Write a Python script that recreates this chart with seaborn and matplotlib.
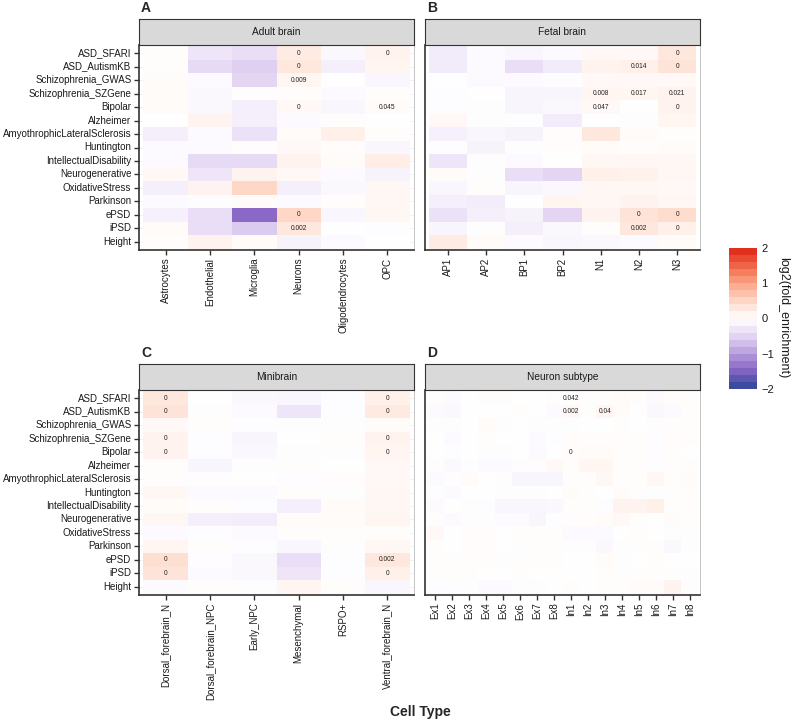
import numpy as np
import pandas as pd
import matplotlib
matplotlib.use("Agg")
import matplotlib.pyplot as plt
import seaborn as sns
from matplotlib.colors import LinearSegmentedColormap, Normalize
from matplotlib.cm import ScalarMappable

# gene sets (rows) and cell types (columns) for each panel
gene_sets = ["ASD_SFARI", "ASD_AutismKB", "Schizophrenia_GWAS", "Schizophrenia_SZGene",
             "Bipolar", "Alzheimer", "AmyothrophicLateralSclerosis", "Huntington",
             "IntellectualDisability", "Neurogenerative", "OxidativeStress", "Parkinson",
             "ePSD", "iPSD", "Height"]

adult_cells = ["Astrocytes", "Endothelial", "Microglia", "Neurons", "Oligodendrocytes", "OPC"]
fetal_cells = ["AP1", "AP2", "BP1", "BP2", "N1", "N2", "N3"]
mini_cells = ["Dorsal_forebrain_N", "Dorsal_forebrain_NPC", "Early_NPC", "Mesenchymal",
              "RSPO+", "Ventral_forebrain_N"]
subtype_cells = ["Ex1", "Ex2", "Ex3", "Ex4", "Ex5", "Ex6", "Ex7", "Ex8",
                 "In1", "In2", "In3", "In4", "In5", "In6", "In7", "In8"]

# log2(fold_enrichment)
adult_vals = [
    [0.02, -0.30, -0.40, 0.25, -0.08, 0.15],
    [0.03, -0.45, -0.55, 0.30, -0.20, 0.12],
    [0.05, -0.06, -0.50, 0.12, 0.00, -0.10],
    [0.05, -0.08, 0.03, 0.04, -0.05, 0.02],
    [0.05, -0.08, -0.20, 0.08, -0.10, 0.05],
    [0.00, 0.15, -0.20, -0.05, 0.02, 0.00],
    [-0.20, -0.05, -0.35, 0.05, 0.20, 0.03],
    [-0.05, -0.05, 0.03, 0.08, 0.04, -0.10],
    [-0.06, -0.45, -0.45, 0.15, 0.05, 0.22],
    [0.08, -0.30, 0.15, 0.08, -0.06, -0.15],
    [-0.20, 0.15, 0.50, -0.20, -0.08, 0.10],
    [-0.05, -0.03, 0.05, -0.05, 0.04, 0.10],
    [-0.18, -0.40, -1.50, 0.50, -0.10, 0.10],
    [0.06, -0.40, -0.60, 0.30, 0.00, -0.04],
    [0.04, 0.15, 0.05, -0.15, -0.06, 0.00],
]
fetal_vals = [
    [-0.25, -0.05, -0.10, -0.05, 0.08, 0.08, 0.30],
    [-0.25, -0.05, -0.40, -0.25, 0.15, 0.20, 0.35],
    [0.00, -0.05, -0.05, -0.02, 0.08, 0.08, 0.08],
    [-0.04, 0.00, -0.12, -0.12, 0.12, 0.12, 0.15],
    [-0.04, -0.02, -0.12, -0.08, 0.08, 0.00, 0.15],
    [0.08, -0.03, -0.04, -0.25, 0.00, -0.03, 0.12],
    [-0.18, -0.10, -0.15, 0.04, 0.30, 0.06, 0.03],
    [-0.04, -0.15, -0.02, 0.04, 0.06, 0.04, 0.05],
    [-0.30, -0.02, -0.05, 0.00, 0.10, 0.10, 0.10],
    [0.06, -0.03, -0.40, -0.50, 0.20, 0.18, 0.10],
    [-0.10, 0.03, -0.12, -0.08, 0.10, 0.10, 0.08],
    [-0.20, -0.22, 0.00, 0.12, 0.10, 0.15, 0.10],
    [-0.35, -0.20, -0.15, -0.50, 0.15, 0.35, 0.45],
    [-0.12, -0.02, -0.20, -0.08, 0.02, 0.30, 0.20],
    [0.25, 0.05, -0.05, -0.10, -0.08, -0.05, 0.05],
]
mini_vals = [
    [0.30, 0.00, -0.08, -0.10, -0.04, 0.20],
    [0.35, -0.02, -0.06, -0.30, -0.04, 0.28],
    [0.08, 0.02, -0.04, -0.03, -0.03, 0.05],
    [0.15, -0.04, -0.12, 0.00, 0.02, 0.15],
    [0.15, -0.04, -0.08, -0.02, -0.02, 0.12],
    [0.02, -0.12, -0.03, 0.03, 0.00, 0.08],
    [-0.02, -0.03, 0.00, -0.04, 0.04, 0.08],
    [0.10, -0.05, -0.06, 0.03, -0.03, 0.10],
    [0.06, 0.03, -0.04, -0.20, 0.06, 0.10],
    [0.10, -0.20, -0.22, 0.05, 0.05, 0.12],
    [-0.05, -0.04, -0.05, 0.03, 0.03, 0.02],
    [0.12, 0.02, -0.04, -0.10, -0.03, 0.10],
    [0.40, -0.04, -0.08, -0.40, -0.04, 0.30],
    [0.35, -0.06, -0.08, -0.30, -0.04, 0.20],
    [-0.06, 0.02, -0.02, 0.12, 0.02, -0.10],
]
subtype_vals = [
    [-0.02, -0.05, 0.00, 0.03, 0.02, 0.00, 0.00, 0.02, 0.02, 0.03, 0.02, 0.05, 0.03, -0.06, 0.04, 0.03],
    [-0.05, -0.08, 0.00, 0.00, 0.00, 0.02, 0.00, -0.06, 0.10, -0.02, 0.12, 0.05, 0.00, -0.08, -0.06, 0.03],
    [-0.02, -0.03, 0.00, 0.06, -0.02, 0.00, -0.03, -0.02, -0.02, 0.00, 0.00, 0.03, 0.00, -0.03, 0.03, 0.02],
    [0.00, -0.06, 0.00, 0.03, 0.00, 0.00, -0.05, -0.04, 0.04, 0.04, 0.04, 0.04, 0.03, -0.04, 0.04, 0.03],
    [0.00, -0.04, 0.00, -0.03, -0.02, 0.00, -0.05, 0.00, 0.04, 0.05, 0.05, 0.03, 0.02, -0.04, 0.02, 0.00],
    [-0.03, -0.07, -0.04, -0.05, -0.06, -0.03, -0.02, 0.08, 0.03, 0.12, 0.12, 0.02, 0.02, -0.03, 0.02, 0.03],
    [-0.06, -0.04, 0.06, 0.00, -0.02, -0.12, -0.12, -0.12, 0.02, 0.04, 0.10, 0.02, 0.03, 0.10, 0.02, 0.06],
    [-0.03, -0.06, 0.00, 0.00, -0.02, -0.03, -0.02, 0.00, 0.06, 0.02, 0.00, 0.06, 0.02, -0.03, -0.03, 0.02],
    [-0.06, 0.00, -0.03, -0.04, -0.10, -0.10, -0.10, -0.08, 0.02, 0.02, -0.04, 0.15, 0.15, 0.20, 0.02, 0.04],
    [0.03, -0.06, -0.02, -0.03, -0.06, -0.06, -0.12, -0.04, 0.03, 0.04, 0.06, 0.08, 0.02, 0.00, 0.05, 0.03],
    [0.08, 0.00, 0.04, 0.04, 0.00, 0.02, 0.02, 0.02, -0.06, -0.06, -0.06, 0.00, 0.03, 0.00, -0.03, 0.02],
    [0.02, 0.00, 0.04, 0.04, 0.00, -0.03, 0.02, 0.02, -0.02, -0.02, -0.08, -0.02, 0.03, -0.02, -0.08, -0.02],
    [0.03, -0.02, 0.03, 0.02, -0.03, 0.03, 0.02, 0.02, 0.00, 0.00, 0.06, -0.02, 0.00, 0.02, 0.00, 0.00],
    [0.02, 0.03, 0.02, 0.00, 0.00, 0.03, 0.00, 0.00, 0.00, 0.00, 0.03, -0.02, 0.03, 0.02, -0.03, -0.02],
    [-0.04, -0.04, -0.03, -0.05, -0.05, -0.02, -0.03, 0.00, 0.02, 0.00, 0.02, 0.04, 0.05, 0.06, 0.15, 0.03],
]

# significant p-values printed in cells: (row, column) -> text
adult_p = {(0, 3): "0", (0, 5): "0", (1, 3): "0", (2, 3): "0.009", (4, 3): "0",
           (4, 5): "0.045", (12, 3): "0", (13, 3): "0.002"}
fetal_p = {(0, 6): "0", (1, 5): "0.014", (1, 6): "0", (3, 4): "0.008", (3, 5): "0.017",
           (3, 6): "0.021", (4, 4): "0.047", (4, 6): "0", (12, 5): "0", (12, 6): "0",
           (13, 5): "0.002", (13, 6): "0"}
mini_p = {(0, 0): "0", (0, 5): "0", (1, 0): "0", (1, 5): "0", (3, 0): "0", (3, 5): "0",
          (4, 0): "0", (4, 5): "0", (12, 0): "0", (12, 5): "0.002", (13, 0): "0", (13, 5): "0"}
subtype_p = {(0, 8): "0.042", (1, 8): "0.002", (1, 10): "0.04", (4, 8): "0"}

sns.set_theme(style="white")
plt.rcParams["font.family"] = ["Liberation Sans", "DejaVu Sans"]

cmap = LinearSegmentedColormap.from_list("enrich", [
    (0.0, "#3C4BA0"), (0.125, "#8A68C6"), (0.25, "#B9A1DE"), (0.375, "#E4D6F3"),
    (0.5, "#FFFFFF"), (0.625, "#FED8C8"), (0.75, "#FCA98C"), (0.875, "#F26E4E"),
    (1.0, "#E0301E")])

W, H = 798, 722
fig = plt.figure(figsize=(W / 100, H / 100), dpi=100)


def rect(x0, y0, x1, y1):
    return [x0 / W, 1 - y1 / H, (x1 - x0) / W, (y1 - y0) / H]


def panel(x0, x1, y0, y1, vals, cells, pvals, title, letter, show_y):
    df = pd.DataFrame(vals, index=gene_sets, columns=cells)
    ann = np.full(df.shape, "", dtype=object)
    for (r, c), t in pvals.items():
        ann[r, c] = t
    ax = fig.add_axes(rect(x0, y0, x1, y1))
    sns.heatmap(df, ax=ax, cmap=cmap, vmin=-2, vmax=2, cbar=False,
                annot=ann, fmt="", annot_kws={"size": 4.8, "color": "#222222"},
                yticklabels=gene_sets if show_y else False)
    nr, nc = df.shape
    ax.set_xlim(-0.1, nc + 0.1)
    ax.set_ylim(nr + 0.1, -0.1)
    ax.set_axisbelow(True)
    ax.grid(True, color="#ebebeb", lw=0.5)
    for s in ["left", "bottom"]:
        ax.spines[s].set_visible(True)
        ax.spines[s].set_color("#333333")
        ax.spines[s].set_linewidth(1.2)
    ax.spines["right"].set_visible(True)
    ax.spines["right"].set_color("#bbbbbb")
    ax.spines["right"].set_linewidth(0.6)
    ax.spines["top"].set_visible(False)
    ax.set_xlabel("")
    ax.set_ylabel("")
    ax.tick_params(axis="x", bottom=True, length=3.5, width=1, color="#333333",
                   labelsize=7, labelcolor="#1a1a1a", rotation=90, pad=2)
    ax.tick_params(axis="y", left=show_y, length=3.5, width=1, color="#333333",
                   labelsize=7, labelcolor="#1a1a1a", rotation=0, pad=2)
    for lab in ax.get_xticklabels():
        lab.set_va("top")
        lab.set_ha("center")

    # facet strip
    sx = fig.add_axes(rect(x0, y0 - 26, x1, y0))
    sx.set_facecolor("#d9d9d9")
    sx.set_xticks([])
    sx.set_yticks([])
    for s in sx.spines.values():
        s.set_visible(True)
        s.set_color("#333333")
        s.set_linewidth(0.8)
    sx.text(0.5, 0.5, title, ha="center", va="center", fontsize=7.3, color="#1a1a1a",
            transform=sx.transAxes)
    fig.text((x0 + 2) / W, 1 - (y0 - 37) / H, letter, fontsize=10, weight="bold",
             ha="left", va="center")


panel(139, 414, 45, 250, adult_vals, adult_cells, adult_p, "Adult brain", "A", True)
panel(425, 700, 45, 250, fetal_vals, fetal_cells, fetal_p, "Fetal brain", "B", False)
panel(139, 414, 390, 595, mini_vals, mini_cells, mini_p, "Minibrain", "C", True)
panel(425, 700, 390, 595, subtype_vals, subtype_cells, subtype_p, "Neuron subtype", "D", False)

# shared colour bar
cax = fig.add_axes(rect(729, 248, 757, 389))
sm = ScalarMappable(norm=Normalize(-2, 2), cmap=cmap.resampled(20))
cb = fig.colorbar(sm, cax=cax, ticks=[-2, -1, 0, 1, 2])
cb.outline.set_visible(False)
cax.yaxis.set_ticks_position("both")
cax.tick_params(axis="y", direction="in", color="white", length=4, width=0.8,
                labelsize=8, labelcolor="#1a1a1a", labelleft=False, labelright=True, pad=3)
fig.text(783 / W, 1 - 318 / H, "log2(fold_enrichment)", rotation=270, fontsize=9,
         ha="center", va="center", color="#1a1a1a")

fig.text(420 / W, 1 - 712 / H, "Cell Type", fontsize=10, weight="bold",
         ha="center", va="center")

fig.savefig("out.png", dpi=100, facecolor="white")
